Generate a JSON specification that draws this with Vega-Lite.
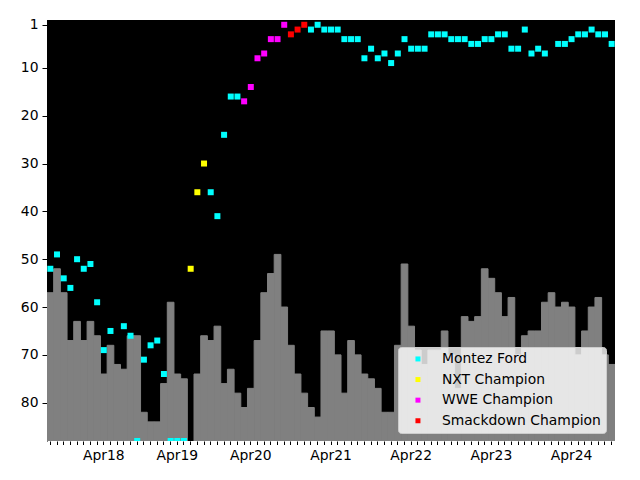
{
  "$schema": "https://vega.github.io/schema/vega-lite/v6.json",
  "width": 568,
  "height": 421,
  "autosize": {"type": "none"},
  "padding": {"left": 47, "top": 20, "right": 25, "bottom": 39},
  "background": "white",
  "view": {"fill": "black", "stroke": null},
  "config": {
    "font": "DejaVu Sans",
    "axis": {"labelFont": "DejaVu Sans", "labelFontSize": 13.9, "labelColor": "black", "domainColor": "black", "tickColor": "black", "grid": false, "title": null}
  },
  "data": {"values": [
    {"d": "2017-08-15", "r": 52, "t": "Montez Ford", "b": 57},
    {"d": "2017-09-15", "r": 49, "t": "Montez Ford", "b": 52},
    {"d": "2017-10-15", "r": 54, "t": "Montez Ford", "b": 57},
    {"d": "2017-11-15", "r": 56, "t": "Montez Ford", "b": 67},
    {"d": "2017-12-15", "r": 50, "t": "Montez Ford", "b": 63},
    {"d": "2018-01-15", "r": 52, "t": "Montez Ford", "b": 67},
    {"d": "2018-02-15", "r": 51, "t": "Montez Ford", "b": 63},
    {"d": "2018-03-15", "r": 59, "t": "Montez Ford", "b": 66},
    {"d": "2018-04-15", "r": 69, "t": "Montez Ford", "b": 74},
    {"d": "2018-05-15", "r": 65, "t": "Montez Ford", "b": 68},
    {"d": "2018-06-15", "r": null, "t": "Montez Ford", "b": 72},
    {"d": "2018-07-15", "r": 64, "t": "Montez Ford", "b": 73},
    {"d": "2018-08-15", "r": 66, "t": "Montez Ford", "b": 66},
    {"d": "2018-09-15", "r": 88, "t": "Montez Ford", "b": 66},
    {"d": "2018-10-15", "r": 71, "t": "Montez Ford", "b": 82},
    {"d": "2018-11-15", "r": 68, "t": "Montez Ford", "b": 84},
    {"d": "2019-01-15", "r": 67, "t": "Montez Ford", "b": 84},
    {"d": "2019-02-15", "r": 74, "t": "Montez Ford", "b": 76},
    {"d": "2019-03-15", "r": 88, "t": "Montez Ford", "b": 59},
    {"d": "2019-04-15", "r": 88, "t": "Montez Ford", "b": 74},
    {"d": "2019-05-15", "r": 88, "t": "Montez Ford", "b": 75},
    {"d": "2019-06-15", "r": 52, "t": "NXT Champion", "b": null},
    {"d": "2019-07-15", "r": 36, "t": "NXT Champion", "b": 74},
    {"d": "2019-08-15", "r": 30, "t": "NXT Champion", "b": 66},
    {"d": "2019-09-15", "r": 36, "t": "Montez Ford", "b": 67},
    {"d": "2019-10-15", "r": 41, "t": "Montez Ford", "b": 64},
    {"d": "2019-11-15", "r": 24, "t": "Montez Ford", "b": 76},
    {"d": "2020-01-15", "r": 16, "t": "Montez Ford", "b": 73},
    {"d": "2020-02-15", "r": 16, "t": "Montez Ford", "b": 78},
    {"d": "2020-03-15", "r": 17, "t": "WWE Champion", "b": 81},
    {"d": "2020-04-15", "r": 14, "t": "WWE Champion", "b": 77},
    {"d": "2020-05-15", "r": 8, "t": "WWE Champion", "b": 67},
    {"d": "2020-06-15", "r": 7, "t": "WWE Champion", "b": 57},
    {"d": "2020-07-15", "r": 4, "t": "WWE Champion", "b": 53},
    {"d": "2020-08-15", "r": 4, "t": "WWE Champion", "b": 49},
    {"d": "2020-09-15", "r": 1, "t": "WWE Champion", "b": 60},
    {"d": "2020-10-15", "r": 3, "t": "Smackdown Champion", "b": 68},
    {"d": "2020-11-15", "r": 2, "t": "Smackdown Champion", "b": 74},
    {"d": "2020-12-15", "r": 1, "t": "Smackdown Champion", "b": 78},
    {"d": "2021-01-15", "r": 2, "t": "Montez Ford", "b": 81},
    {"d": "2021-02-15", "r": 1, "t": "Montez Ford", "b": 83},
    {"d": "2021-03-15", "r": 2, "t": "Montez Ford", "b": 65},
    {"d": "2021-04-15", "r": 2, "t": "Montez Ford", "b": 65},
    {"d": "2021-05-15", "r": 2, "t": "Montez Ford", "b": 70},
    {"d": "2021-06-15", "r": 4, "t": "Montez Ford", "b": 78},
    {"d": "2021-07-15", "r": 4, "t": "Montez Ford", "b": 67},
    {"d": "2021-08-15", "r": 4, "t": "Montez Ford", "b": 70},
    {"d": "2021-09-15", "r": 8, "t": "Montez Ford", "b": 74},
    {"d": "2021-10-15", "r": 6, "t": "Montez Ford", "b": 75},
    {"d": "2021-11-15", "r": 8, "t": "Montez Ford", "b": 77},
    {"d": "2021-12-15", "r": 7, "t": "Montez Ford", "b": 82},
    {"d": "2022-01-15", "r": 9, "t": "Montez Ford", "b": 82},
    {"d": "2022-02-15", "r": 7, "t": "Montez Ford", "b": 68},
    {"d": "2022-03-15", "r": 4, "t": "Montez Ford", "b": 51},
    {"d": "2022-04-15", "r": 6, "t": "Montez Ford", "b": 64},
    {"d": "2022-05-15", "r": 6, "t": "Montez Ford", "b": 69},
    {"d": "2022-06-15", "r": 6, "t": "Montez Ford", "b": 72},
    {"d": "2022-07-15", "r": 3, "t": "Montez Ford", "b": 69},
    {"d": "2022-08-15", "r": 3, "t": "Montez Ford", "b": 69},
    {"d": "2022-09-15", "r": 3, "t": "Montez Ford", "b": 65},
    {"d": "2022-10-15", "r": 4, "t": "Montez Ford", "b": 70},
    {"d": "2022-11-15", "r": 4, "t": "Montez Ford", "b": 77},
    {"d": "2022-12-15", "r": 4, "t": "Montez Ford", "b": 62},
    {"d": "2023-01-15", "r": 5, "t": "Montez Ford", "b": 63},
    {"d": "2023-02-15", "r": 5, "t": "Montez Ford", "b": 62},
    {"d": "2023-03-15", "r": 4, "t": "Montez Ford", "b": 52},
    {"d": "2023-04-15", "r": 4, "t": "Montez Ford", "b": 54},
    {"d": "2023-05-15", "r": 3, "t": "Montez Ford", "b": 57},
    {"d": "2023-06-15", "r": 3, "t": "Montez Ford", "b": 62},
    {"d": "2023-07-15", "r": 6, "t": "Montez Ford", "b": 58},
    {"d": "2023-08-15", "r": 6, "t": "Montez Ford", "b": 70},
    {"d": "2023-09-15", "r": 2, "t": "Montez Ford", "b": 66},
    {"d": "2023-10-15", "r": 7, "t": "Montez Ford", "b": 65},
    {"d": "2023-11-15", "r": 6, "t": "Montez Ford", "b": 65},
    {"d": "2023-12-15", "r": 7, "t": "Montez Ford", "b": 59},
    {"d": "2024-01-15", "r": null, "t": "Montez Ford", "b": 57},
    {"d": "2024-02-15", "r": 5, "t": "Montez Ford", "b": 60},
    {"d": "2024-03-15", "r": 5, "t": "Montez Ford", "b": 59},
    {"d": "2024-04-15", "r": 4, "t": "Montez Ford", "b": 60},
    {"d": "2024-05-15", "r": 3, "t": "Montez Ford", "b": 70},
    {"d": "2024-06-15", "r": 3, "t": "Montez Ford", "b": 65},
    {"d": "2024-07-15", "r": 2, "t": "Montez Ford", "b": 60},
    {"d": "2024-08-15", "r": 3, "t": "Montez Ford", "b": 58},
    {"d": "2024-09-15", "r": 3, "t": "Montez Ford", "b": 70},
    {"d": "2024-10-15", "r": 5, "t": "Montez Ford", "b": 72}
  ]},
  "encoding": {
    "x": {
      "field": "d", "timeUnit": "yearmonth", "type": "ordinal",
      "scale": {"paddingInner": 0, "paddingOuter": 0},
      "axis": {
        "labelAngle": 0, "labelOverlap": false, "tickSize": 3.5, "labelPadding": 4, "domain": false,
        "labelExpr": "month(datum.value) == 3 ? timeFormat(datum.value, '%b%y') : ''"
      }
    }
  },
  "layer": [
    {
      "mark": {"type": "bar", "color": "#808080", "stroke": "#808080", "strokeWidth": 1, "clip": true},
      "encoding": {
        "y": {
          "field": "b", "type": "quantitative",
          "scale": {"domain": [0, 88], "reverse": true, "nice": false, "zero": false},
          "axis": {"values": [1, 10, 20, 30, 40, 50, 60, 70, 80], "tickSize": 5, "labelPadding": 4}
        },
        "y2": {"datum": 88}
      }
    },
    {
      "mark": {"type": "point", "shape": "square", "filled": true, "size": 36, "opacity": 1, "clip": true},
      "encoding": {
        "y": {"field": "r", "type": "quantitative"},
        "color": {
          "field": "t", "type": "nominal",
          "scale": {"domain": ["Montez Ford", "NXT Champion", "WWE Champion", "Smackdown Champion"], "range": ["#00ffff", "#ffff00", "#ff00ff", "#ff0000"]},
          "legend": {
            "title": null, "orient": "none", "legendX": 351, "legendY": 327,
            "fillColor": "rgba(255,255,255,0.8)", "strokeColor": "#cccccc", "cornerRadius": 3,
            "padding": 5, "symbolOffset": 8, "symbolType": "square", "symbolSize": 25, "symbolStrokeWidth": 0,
            "labelFont": "DejaVu Sans", "labelFontSize": 13.9, "labelColor": "#000000", "labelOffset": 17,
            "labelLimit": 300, "rowPadding": 5.6
          }
        }
      }
    }
  ]
}
